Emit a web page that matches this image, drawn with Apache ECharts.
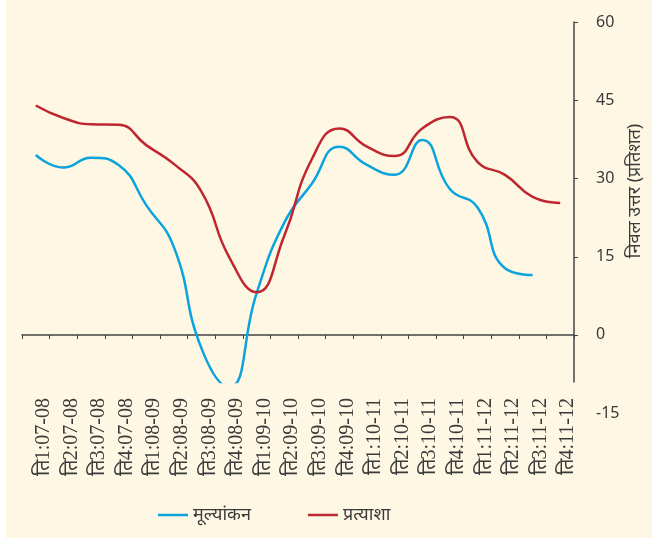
<!DOCTYPE html>
<html>
<head>
<meta charset="utf-8">
<script src="https://cdn.jsdelivr.net/npm/echarts@6/dist/echarts.min.js"></script>
<style>
  html, body { margin: 0; padding: 0; background: #ffffff; }
  #main { position: absolute; left: 6px; top: 0; width: 646px; height: 538px; }
</style>
</head>
<body>
<div id="main"></div>
<script>
var quarters = [
  "ति1:07-08", "ति2:07-08", "ति3:07-08", "ति4:07-08",
  "ति1:08-09", "ति2:08-09", "ति3:08-09", "ति4:08-09",
  "ति1:09-10", "ति2:09-10", "ति3:09-10", "ति4:09-10",
  "ति1:10-11", "ति2:10-11", "ति3:10-11", "ति4:10-11",
  "ति1:11-12", "ति2:11-12", "ति3:11-12", "ति4:11-12"
];
// मूल्यांकन (assessment)
var assessment = [34.5, 32.1, 34.0, 32.6, 24.9, 16.9, -2.5, -10, 8.0, 21.5,
  29.0, 36.1, 32.6, 30.7, 37.4, 28.0, 24.5, 12.8, 11.5, null];
// प्रत्याशा (expectation)
var expectation = [44.0, 41.6, 40.4, 40.3, 36.4, 32.8, 27.5, 15.0, 8.2, 19.0,
  33.7, 39.6, 36.1, 34.3, 39.6, 41.8, 33.2, 30.7, 26.5, 25.3];
var yTicks = [0, 15, 30, 45, 60];

var myChart = echarts.init(document.getElementById("main"));
var textColor = "#3a3a3a";

option = {
  backgroundColor: "#fdf7e3",
  animation: false,
  legend: {
    left: 152,
    top: 506,
    padding: 0,
    icon: "rect",
    itemWidth: 30,
    itemHeight: 2.5,
    itemGap: 57,
    textStyle: { color: textColor, fontSize: 18, fontFamily: "Noto Sans" },
    data: ["मूल्यांकन", "प्रत्याशा"]
  },
  grid: [
    // plot area, clipped a little below zero like the original
    { left: 16, right: 68, top: 22, height: 360 },
    // only used to place the -15 label
    { left: 16, right: 68, top: 22, height: 391 }
  ],
  xAxis: [
    {
      type: "category",
      gridIndex: 0,
      data: quarters,
      boundaryGap: true,
      axisLine: { onZero: true, lineStyle: { color: "#444", width: 1.5 } },
      axisTick: { show: true, length: 4, lineStyle: { color: "#444" } },
      axisLabel: {
        rotate: 90,
        margin: 16,
        verticalAlign: "top",
        lineHeight: 16,
        color: textColor,
        fontSize: 20,
        fontFamily: "Liberation Serif"
      }
    },
    { type: "category", gridIndex: 1, data: quarters, show: false }
  ],
  yAxis: [
    {
      type: "value",
      gridIndex: 0,
      position: "right",
      min: -9,
      max: 60,
      name: "निवल उत्तर (प्रतिशत)",
      nameLocation: "middle",
      nameRotate: 90,
      nameGap: 52,
      nameTextStyle: { color: textColor, fontSize: 18, fontFamily: "Noto Sans", padding: [0, 0, 0, 22] },
      axisLine: { show: true, lineStyle: { color: "#444", width: 1.5 } },
      axisTick: { show: true, length: 4, customValues: yTicks, lineStyle: { color: "#444" } },
      axisLabel: { show: false },
      splitLine: { show: false }
    },
    {
      type: "value",
      gridIndex: 1,
      position: "right",
      min: -15,
      max: 60,
      interval: 15,
      axisLine: { show: false },
      axisTick: { show: false },
      axisLabel: { margin: 12, color: textColor, fontSize: 16, fontFamily: "Noto Sans" },
      splitLine: { show: false }
    }
  ],
  series: [
    {
      name: "मूल्यांकन",
      type: "line",
      xAxisIndex: 0,
      yAxisIndex: 0,
      data: assessment,
      smooth: 0.5,
      symbol: "none",
      lineStyle: { color: "#0aa3de", width: 2.5 },
      itemStyle: { color: "#0aa3de" }
    },
    {
      name: "प्रत्याशा",
      type: "line",
      xAxisIndex: 0,
      yAxisIndex: 0,
      data: expectation,
      smooth: 0.5,
      symbol: "none",
      lineStyle: { color: "#be2630", width: 2.5 },
      itemStyle: { color: "#be2630" }
    }
  ]
};
myChart.setOption(option);
</script>
</body>
</html>
